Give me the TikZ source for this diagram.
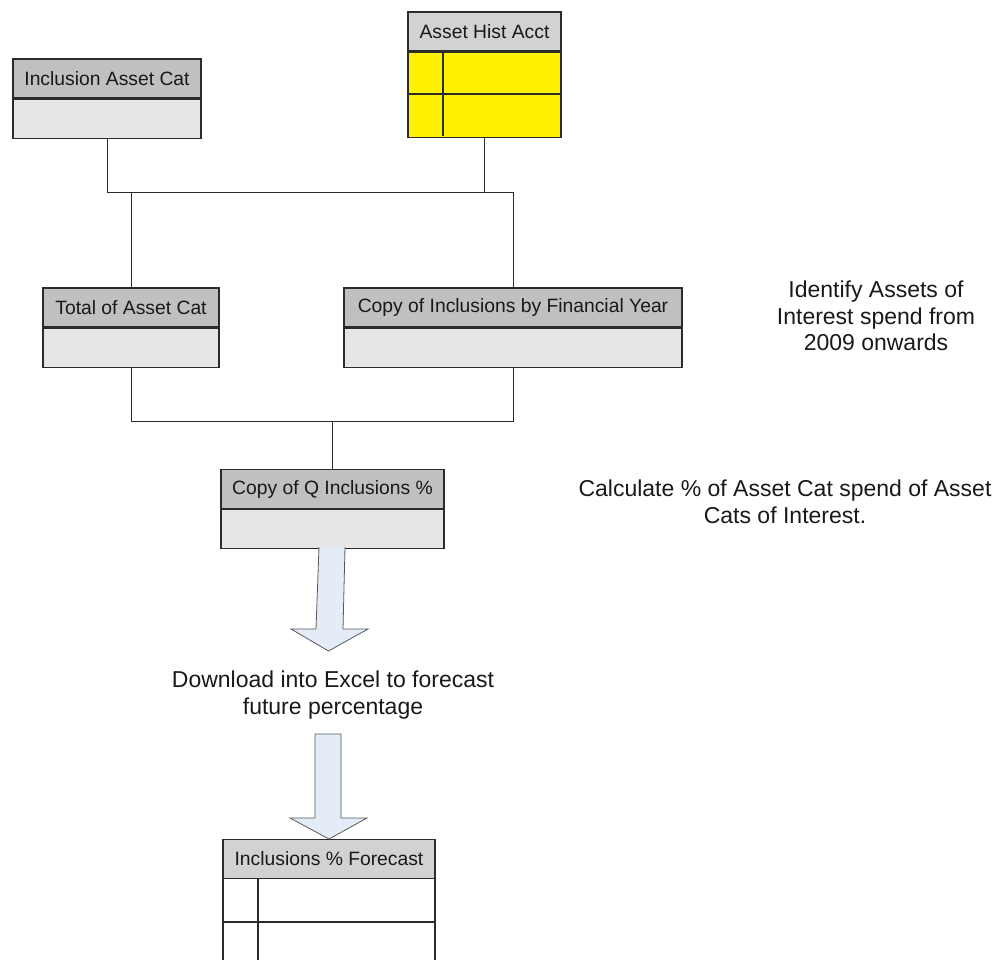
\documentclass[tikz,border=0pt]{standalone}
\usepackage{fontspec}
\setmainfont{Liberation Sans}
\usetikzlibrary{positioning}
\definecolor{linecol}{HTML}{2B2B2B}
\definecolor{hdrgray}{HTML}{C0C0C0}
\definecolor{hdrlight}{HTML}{D2D2D2}
\definecolor{bodygray}{HTML}{E6E6E6}
\definecolor{arrowfill}{HTML}{E4ECF7}
\tikzset{
    hdr/.style={draw=linecol, fill=hdrgray, line width=1.1pt, minimum height=39pt, inner sep=0pt, text=black!90, font=\fontsize{19.3}{22}\selectfont},
    bodybox/.style={draw=linecol, fill=bodygray, line width=1.1pt, minimum height=39pt, inner sep=0pt},
    conn/.style={draw=linecol, line width=0.9pt},
    blockarr/.style={draw=black!65, fill=arrowfill, line width=0.8pt, line join=miter},
    note/.style={align=center, inner sep=0pt, text=black!90, font=\fontsize{23}{26.5}\selectfont}
}
\begin{document}
\begin{tikzpicture}[x=1pt,y=-1pt]
    \useasboundingbox (0,0) rectangle (1000,959);
    \clip (0,0) rectangle (1000,959);
    %tables at the top
    \node[hdr, minimum width=188pt] (inchdr) at (107,78.5) {Inclusion Asset Cat};
    \node[bodybox, minimum width=188pt, below=0pt of inchdr] (incbody) {};
    \node[hdr, fill=hdrlight, minimum width=153pt] (ahhdr) at (484.5,31.5) {Asset Hist Acct};
    \node[bodybox, fill=yellow, minimum width=153pt, minimum height=85pt, below=0pt of ahhdr] (ahbody) {};
    \draw [linecol, line width=1.1pt] (408,94) -- (561,94);
    \draw [linecol, line width=1.1pt] (443,51) -- (443,136);
    %middle tables
    \node[hdr, minimum width=176pt] (tothdr) at (131,307.5) {Total of Asset Cat};
    \node[bodybox, minimum width=176pt, below=0pt of tothdr] (totbody) {};
    \node[hdr, minimum width=338pt] (copyhdr) at (513,307.5) {Copy of Inclusions by Financial Year};
    \node[bodybox, minimum width=338pt, below=0pt of copyhdr] (copybody) {};
    \node[hdr, minimum width=223pt] (qhdr) at (332.5,489) {Copy of Q Inclusions \%};
    \node[bodybox, minimum width=223pt, below=0pt of qhdr] (qbody) {};
    %joins
    \coordinate (busL) at (107,192);
    \coordinate (busR) at (513,192);
    \coordinate (bus2) at (0,421);
    \draw [conn] (incbody.south) -- (busL) -- (busR) -- (copyhdr.north);
    \draw [conn] (ahbody.south) -- (ahbody.south |- busL);
    \draw [conn] (tothdr.north) -- (tothdr.north |- busL);
    \draw [conn] (totbody.south) -- (totbody.south |- bus2) -- (copybody.south |- bus2) -- (copybody.south);
    \draw [conn] (qhdr.north) -- (qhdr.north |- bus2);
    %notes
    \node[note] (idnote) at (876,316) {Identify Assets of\\Interest spend from\\2009 onwards};
    \node[note] (calcnote) at (785,502) {Calculate \% of Asset Cat spend of Asset\\Cats of Interest.};
    \node[note] (dlnote) at (333,695) {Download into Excel to forecast\\future percentage};
    %forecast table
    \node[hdr, fill=hdrlight, minimum width=212pt] (fchdr) at (329,859) {Inclusions \% Forecast};
    \draw [linecol, line width=1.1pt] (223,879) -- (223,965);
    \draw [linecol, line width=1.1pt] (435,879) -- (435,965);
    \draw [linecol, line width=1.1pt] (258,879) -- (258,965);
    \draw [linecol, line width=1.1pt] (223,922) -- (435,922);
    %block arrows
    \filldraw [blockarr] (319,547) -- (316,629) -- (291,629) -- (328.5,651) -- (368,629) -- (343,629) -- (345,547);
    \filldraw [blockarr] (315,734) -- (315,818) -- (290,818) -- (329,839) -- (367,818) -- (341,818) -- (341,734) -- cycle;
\end{tikzpicture}
\end{document}
